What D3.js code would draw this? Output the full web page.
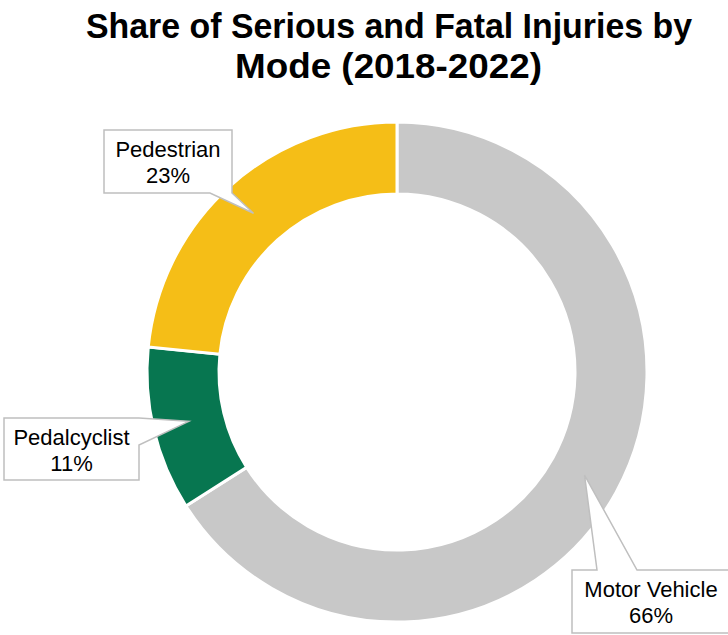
<!DOCTYPE html>
<html>
<head>
<meta charset="utf-8">
<script src="https://cdn.jsdelivr.net/npm/d3@7"></script>
<style>
  body { margin: 0; background: #fff; }
</style>
</head>
<body>
<script>
const categories = ['Motor Vehicle', 'Pedalcyclist', 'Pedestrian'];
const values = [66.0, 10.6, 23.4];
const colors = ['#c8c8c8', '#077650', '#f5be17'];
const titleLines = ['Share of Serious and Fatal Injuries by', 'Mode (2018-2022)'];

// title line extents [x, width, baseline]
const titleBox = [[86, 606, 38], [235, 307, 78]];

// label boxes: [x, y, w, h] and which side the pointer leaves from
const boxes = [
  { x: 572, y: 570, w: 158, h: 63, side: 'top', base: [597, 637] },
  { x: 4, y: 418, w: 135, h: 62, side: 'right', base: [418, 445] },
  { x: 104, y: 130, w: 128, h: 63, side: 'bottom', base: [210, 232] }
];

const width = 728, height = 635;
const cx = 397, cy = 372, outerR = 250, innerR = 178;

const svg = d3.select('body').append('svg')
  .attr('width', width)
  .attr('height', height);

svg.append('g')
  .selectAll('text')
  .data(titleLines)
  .join('text')
  .attr('x', (d, i) => titleBox[i][0])
  .attr('y', (d, i) => titleBox[i][2])
  .attr('textLength', (d, i) => titleBox[i][1])
  .attr('lengthAdjust', 'spacingAndGlyphs')
  .attr('font-family', '"Liberation Sans", Arial, sans-serif')
  .attr('font-weight', 'bold')
  .attr('font-size', 35)
  .attr('fill', '#000')
  .text(d => d);

const data = categories.map((c, i) => ({ name: c, value: values[i], color: colors[i], box: boxes[i] }));

const pie = d3.pie().sort(null).value(d => d.value);
const arc = d3.arc().innerRadius(innerR).outerRadius(outerR);
const mid = d3.arc().innerRadius((innerR + outerR) / 2).outerRadius((innerR + outerR) / 2);

const arcs = pie(data);

const gPie = svg.append('g').attr('transform', `translate(${cx},${cy})`);

gPie.selectAll('path')
  .data(arcs)
  .join('path')
  .attr('d', arc)
  .attr('fill', d => d.data.color)
  .attr('stroke', '#fff')
  .attr('stroke-width', 3);

// callouts
const gLab = svg.append('g');

arcs.forEach(function (a) {
  let b = a.data.box;
  let [tx, ty] = mid.centroid(a);
  tx += cx; ty += cy;

  // box outline with a pointer cut into one side
  let p;
  if (b.side === 'top') {
    p = [[b.x, b.y], [b.base[0], b.y], [tx, ty], [b.base[1], b.y], [b.x + b.w, b.y],
         [b.x + b.w, b.y + b.h], [b.x, b.y + b.h]];
  } else if (b.side === 'right') {
    p = [[b.x, b.y], [b.x + b.w, b.y], [b.x + b.w, b.base[0]], [tx, ty], [b.x + b.w, b.base[1]],
         [b.x + b.w, b.y + b.h], [b.x, b.y + b.h]];
  } else {
    p = [[b.x, b.y], [b.x + b.w, b.y], [b.x + b.w, b.y + b.h], [b.base[1], b.y + b.h], [tx, ty],
         [b.base[0], b.y + b.h], [b.x, b.y + b.h]];
  }

  gLab.append('path')
    .attr('d', 'M' + p.map(q => q.join(',')).join('L') + 'Z')
    .attr('fill', '#fff')
    .attr('stroke', '#bfbfbf')
    .attr('stroke-width', 1.5);

  let t = gLab.append('text')
    .attr('text-anchor', 'middle')
    .attr('font-family', '"Liberation Sans", Arial, sans-serif')
    .attr('font-size', 22)
    .attr('fill', '#000');

  t.append('tspan')
    .attr('x', b.x + b.w / 2)
    .attr('y', b.y + 27)
    .text(a.data.name);

  t.append('tspan')
    .attr('x', b.x + b.w / 2)
    .attr('y', b.y + 53)
    .text(d3.format('.0f')(a.data.value) + '%');
});
</script>
</body>
</html>
